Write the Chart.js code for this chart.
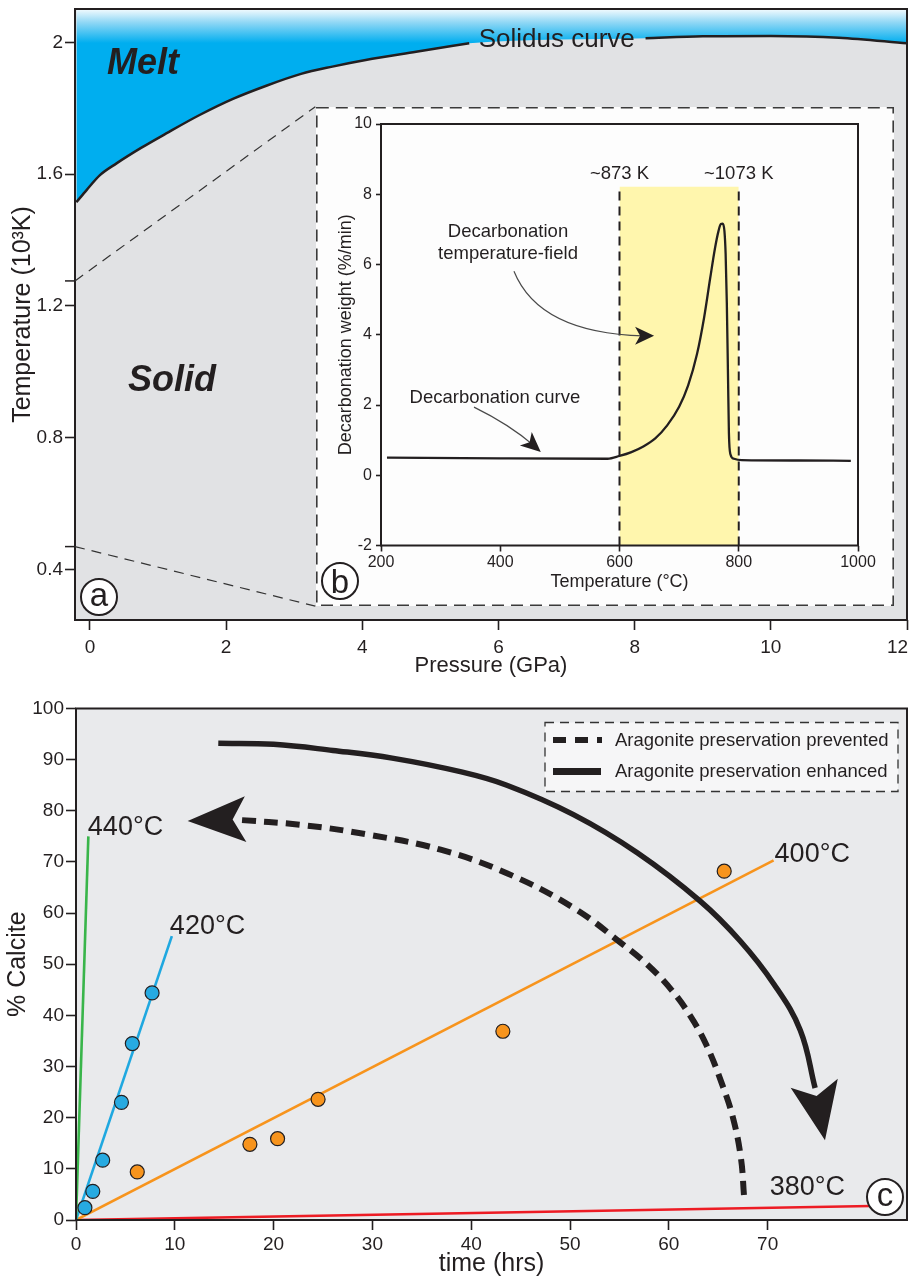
<!DOCTYPE html>
<html>
<head>
    <title>Solidus, decarbonation and calcite growth</title>
    <script src="https://cdn.jsdelivr.net/npm/chart.js"></script>
    <style>
        body {
            margin: 0;
            background: #fff;
        }
        #figure {
            position: relative;
            width: 909px;
            height: 1279px;
        }
        canvas {
            position: absolute;
        }
    </style>
</head>
<body>
    <div id="figure">
        <canvas id="phase" width="909" height="680" style="left:0;top:0"></canvas>
        <canvas id="decarb" width="578" height="499" style="left:316px;top:107px"></canvas>
        <canvas id="calcite" width="909" height="599" style="left:0;top:680px"></canvas>
    </div>

    <script>
        // ---- panel (a): solidus curve ----
        const solidusPressure = [-0.2, -0.05, 0.15, 0.39, 0.75, 1.12, 1.61, 2.1, 2.59, 3.1, 3.56, 4.05, 4.79, 5.57, 8.16, 9.0, 10.0, 11.0, 12.0];
        const solidusTemp = [1.515, 1.552, 1.598, 1.633, 1.68, 1.724, 1.78, 1.829, 1.869, 1.905, 1.927, 1.947, 1.972, 1.998, 2.013, 2.019, 2.02, 2.015, 1.998];
        const solidusGap = [5.57, 8.16]; // line is broken here for its label
        const pressureTicks = [0, 2, 4, 6, 8, 10, 12];
        const temperatureTicks = [0.4, 0.8, 1.2, 1.6, 2];

        // ---- panel (b): decarbonation curve ----
        const decarbTemp = [210, 400, 580, 600, 620, 640, 660, 680, 700, 715, 730, 742, 752, 760, 766, 770, 773, 776, 778, 780, 782, 783.5, 786, 792, 805, 900, 988];
        const decarbRate = [0.5, 0.48, 0.47, 0.55, 0.66, 0.82, 1.05, 1.42, 1.95, 2.55, 3.45, 4.5, 5.6, 6.45, 6.95, 7.15, 7.16, 6.95, 6.3, 4.9, 2.8, 1.2, 0.6, 0.47, 0.43, 0.42, 0.41];
        const fieldBounds = [600, 800];
        const fieldTop = 8.21;
        const fieldLabels = ['~873 K', '~1073 K'];

        // ---- panel (c): % calcite vs time ----
        const hrs420 = [0.9, 1.7, 2.7, 4.6, 5.7, 7.7];
        const calcite420 = [2.4, 5.6, 11.7, 23, 34.5, 44.4];
        const hrs400 = [6.2, 17.6, 20.4, 24.5, 43.2, 65.6];
        const calcite400 = [9.4, 14.8, 15.9, 23.6, 36.9, 68.2];
        const fitLabels = ['440°C', '420°C', '400°C', '380°C'];
        const fitEndHrs = [1.25, 9.7, 70.6, 81.9];
        const fitEndCalcite = [75, 55.5, 70.3, 2.8];
        const preventedHrs = [67.6, 67.3, 66.5, 65.3, 63.8, 62.2, 60.3, 58, 55.4, 50.3, 43.6, 36.9, 29.7, 23, 16];
        const preventedCalcite = [4.9, 12, 19.9, 27, 34.2, 39.8, 44.9, 49.6, 53.8, 61.1, 67.8, 72.4, 75.3, 77.2, 78.3];
        const preventedTip = [11.3, 78];
        const enhancedHrs = [14.4, 20, 26, 32, 39, 43.6, 50.3, 56.8, 63.2, 67.2, 70.6, 73.3, 74.8];
        const enhancedCalcite = [93.2, 93, 91.8, 90.3, 87.6, 85.0, 79.3, 71.8, 62.3, 54.6, 46.2, 37.1, 25.8];
        const enhancedTip = [75.8, 15.6];
        const legendLabels = ['Aragonite preservation prevented', 'Aragonite preservation enhanced'];
        const hourTicks = [0, 10, 20, 30, 40, 50, 60, 70];

        const INK = '#231f20';
        const FONT = 'Arial, "Liberation Sans", Helvetica, sans-serif';
        Chart.defaults.font.family = FONT;
        Chart.defaults.color = INK;

        const pts = (xs, ys) => xs.map((x, i) => ({ x: x, y: ys[i] }));

        function arrowHead(ctx, fromX, fromY, tipX, tipY, len, half, notch) {
            const dx = tipX - fromX, dy = tipY - fromY, d = Math.hypot(dx, dy);
            const ux = dx / d, uy = dy / d, nx = -uy, ny = ux;
            const bx = tipX - ux * len, by = tipY - uy * len;
            ctx.beginPath();
            ctx.moveTo(tipX, tipY);
            ctx.lineTo(bx + nx * half, by + ny * half);
            ctx.lineTo(bx + ux * notch, by + uy * notch);
            ctx.lineTo(bx - nx * half, by - ny * half);
            ctx.closePath();
            ctx.fill();
        }

        function circledLetter(ctx, cx, cy, letter, tall) {
            ctx.save();
            ctx.beginPath();
            ctx.arc(cx, cy, 18, 0, Math.PI * 2);
            ctx.fillStyle = '#fff';
            ctx.fill();
            ctx.lineWidth = 2;
            ctx.strokeStyle = INK;
            ctx.stroke();
            ctx.fillStyle = INK;
            ctx.font = '33px ' + FONT;
            ctx.textAlign = 'center';
            ctx.textBaseline = 'alphabetic';
            ctx.fillText(letter, cx, cy + (tall ? 12 : 8.5));
            ctx.restore();
        }

        // no extra room for edge labels: the plot boxes are fixed
        function noEdgePadding(s) {
            s.paddingLeft = 0;
            s.paddingRight = 0;
            s.paddingTop = 0;
            s.paddingBottom = 0;
        }

        function axisStyle(size, tickLen, pad) {
            return {
                grid: { drawOnChartArea: false, drawTicks: true, tickLength: tickLen, tickColor: INK, tickWidth: 1.6, color: INK },
                border: { display: false },
                ticks: { font: { size: size }, padding: pad, color: INK, maxRotation: 0, autoSkip: false }
            };
        }

        // ================= panel (a) =================
        function meltFill(c) {
            const a = c.chart.chartArea;
            if (!a) return '#00aeef';
            const g = c.chart.ctx.createLinearGradient(0, a.top, 0, a.top + 34);
            g.addColorStop(0, '#f4fbfe');
            g.addColorStop(0.4, '#8fd7f5');
            g.addColorStop(1, '#00aeef');
            return g;
        }

        const phaseNotes = {
            id: 'phaseNotes',
            beforeDraw(chart) {
                const { ctx, chartArea: a } = chart;
                ctx.save();
                ctx.fillStyle = '#e1e2e4';
                ctx.fillRect(a.left, a.top, a.width, a.height);
                ctx.restore();
            },
            afterDraw(chart) {
                const { ctx, chartArea: a, scales: { x, y } } = chart;
                ctx.save();
                ctx.strokeStyle = INK;
                ctx.lineWidth = 2;
                ctx.strokeRect(a.left, a.top, a.width, a.height);

                // dashed lines leading to the inset
                const links = [[-0.22, 1.276, 3.31, 1.805], [-0.22, 0.469, 3.31, 0.288]];
                links.forEach(l => {
                    ctx.setLineDash([]);
                    ctx.lineWidth = 1.5;
                    ctx.strokeStyle = INK;
                    ctx.beginPath();
                    ctx.moveTo(a.left - 10, y.getPixelForValue(l[1]));
                    ctx.lineTo(a.left, y.getPixelForValue(l[1]));
                    ctx.stroke();
                    ctx.setLineDash([10, 7]);
                    ctx.lineWidth = 1.2;
                    ctx.strokeStyle = '#333';
                    ctx.beginPath();
                    ctx.moveTo(x.getPixelForValue(l[0]), y.getPixelForValue(l[1]));
                    ctx.lineTo(x.getPixelForValue(l[2]), y.getPixelForValue(l[3]));
                    ctx.stroke();
                });
                ctx.setLineDash([]);

                ctx.fillStyle = INK;
                ctx.textBaseline = 'alphabetic';
                ctx.textAlign = 'left';
                ctx.font = 'italic bold 36px ' + FONT;
                ctx.fillText('Melt', x.getPixelForValue(0.25), y.getPixelForValue(1.905));
                ctx.fillText('Solid', x.getPixelForValue(0.56), y.getPixelForValue(0.942));
                ctx.font = '26px ' + FONT;
                ctx.fillText('Solidus curve', x.getPixelForValue(5.71), y.getPixelForValue(1.988));
                ctx.restore();

                circledLetter(ctx, a.left + 24, a.bottom - 23, 'a', false);
            }
        };

        const solidusAll = pts(solidusPressure, solidusTemp);
        const solidusLine = {
            showLine: true,
            borderColor: INK,
            borderWidth: 2.5,
            pointRadius: 0,
            cubicInterpolationMode: 'monotone',
            fill: false,
            order: 0
        };

        new Chart(document.getElementById('phase'), {
            type: 'scatter',
            data: {
                datasets: [{
                    label: 'Melt',
                    data: solidusAll,
                    showLine: true,
                    borderWidth: 0,
                    borderColor: 'rgba(0,0,0,0)',
                    pointRadius: 0,
                    cubicInterpolationMode: 'monotone',
                    fill: 'end',
                    backgroundColor: meltFill,
                    order: 1
                },
                Object.assign({ label: 'Solidus curve' }, solidusLine, { data: solidusAll.filter(p => p.x <= solidusGap[0]) }),
                Object.assign({ label: 'Solidus curve (high P)' }, solidusLine, { data: solidusAll.filter(p => p.x >= solidusGap[1]) })
                ]
            },
            options: {
                responsive: false,
                animation: false,
                layout: { autoPadding: false, padding: { top: 9, right: 2, left: 0, bottom: 0 } },
                plugins: { legend: { display: false }, tooltip: { enabled: false } },
                scales: {
                    x: Object.assign(axisStyle(19, 10, 6), {
                        type: 'linear', min: -0.22, max: 12,
                        afterBuildTicks: s => { s.ticks = pressureTicks.map(v => ({ value: v })); },
                        afterFit: s => { s.height = 60; noEdgePadding(s); },
                        title: { display: true, text: 'Pressure (GPa)', font: { size: 22 }, padding: { top: 0, bottom: 1 } }
                    }),
                    y: Object.assign(axisStyle(19, 10, 2), {
                        type: 'linear', min: 0.246, max: 2.102,
                        afterBuildTicks: s => { s.ticks = temperatureTicks.map(v => ({ value: v })); },
                        afterFit: s => { s.width = 75; noEdgePadding(s); },
                        title: { display: true, text: 'Temperature (10³K)', font: { size: 25 }, padding: { top: 8, bottom: 0 } }
                    })
                }
            },
            plugins: [phaseNotes]
        });
        // the last label sits on the right edge of the page, so nudge it inward
        Chart.getChart('phase').options.scales.x.ticks.callback = v => (v === 12 ? '12\u2002\u2002' : String(v));
        Chart.getChart('phase').options.scales.y.ticks.callback = v => (v === 2 ? '2' : v.toFixed(1));
        Chart.getChart('phase').update();

        // ================= panel (b) =================
        const decarbNotes = {
            id: 'decarbNotes',
            beforeDraw(chart) {
                const { ctx, width, height } = chart;
                ctx.save();
                ctx.fillStyle = '#fdfdfd';
                ctx.fillRect(0, 0, width, height);
                ctx.restore();
            },
            afterDraw(chart) {
                const { ctx, chartArea: a, scales: { x, y }, width, height } = chart;
                ctx.save();
                ctx.strokeStyle = INK;
                ctx.lineWidth = 2;
                ctx.strokeRect(a.left, a.top, a.width, a.height);

                ctx.setLineDash([12, 7]);
                ctx.lineWidth = 1.6;
                ctx.strokeStyle = '#3a3a3a';
                ctx.strokeRect(0.8, 0.8, width - 1.6, height - 1.6);
                ctx.setLineDash([]);

                ctx.fillStyle = INK;
                ctx.font = '18.5px ' + FONT;
                ctx.textAlign = 'center';
                ctx.textBaseline = 'alphabetic';
                fieldBounds.forEach((t, i) => ctx.fillText(fieldLabels[i], x.getPixelForValue(t), y.getPixelForValue(8.43)));
                ctx.fillText('Decarbonation', x.getPixelForValue(413), y.getPixelForValue(6.79));
                ctx.fillText('temperature-field', x.getPixelForValue(413), y.getPixelForValue(6.15));
                ctx.fillText('Decarbonation curve', x.getPixelForValue(391), y.getPixelForValue(2.06));

                // pointer arrows
                ctx.strokeStyle = '#4a4a4a';
                ctx.lineWidth = 1.2;
                const px = v => x.getPixelForValue(v), py = v => y.getPixelForValue(v);
                ctx.beginPath();
                ctx.moveTo(px(423), py(5.81));
                ctx.quadraticCurveTo(px(465), py(4.05), px(640), py(3.97));
                ctx.stroke();
                arrowHead(ctx, px(625), py(3.97), px(658), py(3.97), 19, 9, 5);
                ctx.beginPath();
                ctx.moveTo(px(356), py(1.94));
                ctx.quadraticCurveTo(px(415), py(1.45), px(456), py(0.85));
                ctx.stroke();
                arrowHead(ctx, px(440), py(1.08), px(468), py(0.66), 20, 9, 5);
                ctx.restore();

                circledLetter(ctx, 24, 474, 'b', true);
            }
        };

        new Chart(document.getElementById('decarb'), {
            type: 'scatter',
            data: {
                datasets: [{
                    label: 'Decarbonation curve',
                    data: pts(decarbTemp, decarbRate),
                    showLine: true,
                    borderColor: INK,
                    borderWidth: 2.3,
                    pointRadius: 0,
                    cubicInterpolationMode: 'monotone',
                    order: 0
                }, {
                    label: 'Decarbonation temperature-field',
                    data: fieldBounds.map(t => ({ x: t, y: fieldTop })),
                    showLine: true,
                    borderWidth: 0,
                    pointRadius: 0,
                    fill: 'start',
                    backgroundColor: '#fff6ad',
                    order: 3
                }].concat(fieldBounds.map(t => ({
                    label: 'bound ' + t,
                    data: [{ x: t, y: -2 }, { x: t, y: fieldTop }],
                    showLine: true,
                    borderColor: INK,
                    borderWidth: 2,
                    borderDash: [9, 6],
                    pointRadius: 0,
                    order: 1
                })))
            },
            options: {
                responsive: false,
                animation: false,
                layout: { autoPadding: false, padding: { top: 17, right: 36, left: 0, bottom: 0 } },
                plugins: { legend: { display: false }, tooltip: { enabled: false } },
                scales: {
                    x: Object.assign(axisStyle(16, 6, 1), {
                        type: 'linear', min: 200, max: 1000,
                        afterFit: s => { s.height = 60.5; noEdgePadding(s); },
                        title: { display: true, text: 'Temperature (°C)', font: { size: 18 }, padding: { top: 0, bottom: 13 } }
                    }),
                    y: Object.assign(axisStyle(16, 5, 4), {
                        type: 'linear', min: -2, max: 10,
                        afterFit: s => { s.width = 65; noEdgePadding(s); },
                        title: { display: true, text: 'Decarbonation weight (%/min)', font: { size: 18 }, padding: { top: 19, bottom: 0 } }
                    })
                }
            },
            plugins: [decarbNotes]
        });
        Chart.getChart('decarb').options.scales.x.ticks.stepSize = 200;
        Chart.getChart('decarb').options.scales.x.ticks.callback = v => String(v);
        Chart.getChart('decarb').options.scales.y.ticks.stepSize = 2;
        Chart.getChart('decarb').options.scales.y.ticks.callback = v => String(v);
        Chart.getChart('decarb').update();

        // ================= panel (c) =================
        const fitColors = ['#39b54a', '#1fa8e0', '#f7941d', '#ed1c24'];

        const calciteNotes = {
            id: 'calciteNotes',
            beforeDraw(chart) {
                const { ctx, chartArea: a } = chart;
                ctx.save();
                ctx.fillStyle = '#e9eaec';
                ctx.fillRect(a.left, a.top, a.width, a.height);
                ctx.restore();
            },
            afterDatasetsDraw(chart) {
                const { ctx, scales: { x, y } } = chart;
                ctx.save();
                ctx.fillStyle = INK;
                const n1 = preventedHrs.length - 1, n2 = enhancedHrs.length - 1;
                arrowHead(ctx, x.getPixelForValue(preventedHrs[n1]), y.getPixelForValue(preventedCalcite[n1]),
                    x.getPixelForValue(preventedTip[0]), y.getPixelForValue(preventedTip[1]), 58, 23, 13);
                arrowHead(ctx, x.getPixelForValue(enhancedHrs[n2]), y.getPixelForValue(enhancedCalcite[n2]),
                    x.getPixelForValue(enhancedTip[0]), y.getPixelForValue(enhancedTip[1]), 58, 24, 13);
                ctx.restore();
            },
            afterDraw(chart) {
                const { ctx, chartArea: a, scales: { x, y } } = chart;
                ctx.save();
                ctx.strokeStyle = INK;
                ctx.lineWidth = 2;
                ctx.strokeRect(a.left, a.top, a.width, a.height);

                // temperature labels
                const spots = [[1.2, 77], [9.5, 57.5], [70.7, 71.6], [70.2, 6.5]];
                ctx.fillStyle = INK;
                ctx.font = '27px ' + FONT;
                ctx.textAlign = 'left';
                ctx.textBaseline = 'middle';
                fitLabels.forEach((t, i) => ctx.fillText(t, x.getPixelForValue(spots[i][0]), y.getPixelForValue(spots[i][1]) + 1));

                // legend
                const lw = 353, lh = 69;
                const lx = a.right - 362, ly = a.top + 14;
                ctx.fillStyle = '#f6f6f7';
                ctx.fillRect(lx, ly, lw, lh);
                ctx.setLineDash([9, 6]);
                ctx.lineWidth = 1.3;
                ctx.strokeStyle = '#333';
                ctx.strokeRect(lx, ly, lw, lh);
                ctx.strokeStyle = INK;
                ctx.setLineDash([13, 9]);
                ctx.lineWidth = 6;
                ctx.beginPath();
                ctx.moveTo(lx + 8, ly + 17.5);
                ctx.lineTo(lx + 57, ly + 17.5);
                ctx.stroke();
                ctx.setLineDash([]);
                ctx.lineWidth = 7;
                ctx.beginPath();
                ctx.moveTo(lx + 8, ly + 49);
                ctx.lineTo(lx + 56, ly + 49);
                ctx.stroke();
                ctx.fillStyle = INK;
                ctx.font = '18.5px ' + FONT;
                ctx.fillText(legendLabels[0], lx + 70, ly + 18);
                ctx.fillText(legendLabels[1], lx + 70, ly + 49.5);
                ctx.restore();

                circledLetter(ctx, a.right - 22, a.bottom - 23, 'c', false);
            }
        };

        const fitSets = fitLabels.map((t, i) => ({
            label: t,
            data: [{ x: 0, y: 0 }, { x: fitEndHrs[i], y: fitEndCalcite[i] }],
            showLine: true,
            borderColor: fitColors[i],
            borderWidth: 2.6,
            pointRadius: 0,
            order: 3
        }));

        new Chart(document.getElementById('calcite'), {
            type: 'scatter',
            data: {
                datasets: [{
                    label: legendLabels[0],
                    data: pts(preventedHrs, preventedCalcite),
                    showLine: true,
                    borderColor: INK,
                    borderWidth: 6,
                    borderDash: [14, 8],
                    borderCapStyle: 'butt',
                    tension: 0.4,
                    pointRadius: 0,
                    order: 0
                }, {
                    label: legendLabels[1],
                    data: pts(enhancedHrs, enhancedCalcite),
                    showLine: true,
                    borderColor: INK,
                    borderWidth: 5.5,
                    tension: 0.4,
                    pointRadius: 0,
                    order: 0
                }, {
                    label: '420°C data',
                    data: pts(hrs420, calcite420),
                    pointRadius: 7,
                    pointBackgroundColor: '#27aae1',
                    pointBorderColor: INK,
                    pointBorderWidth: 1.2,
                    order: 1
                }, {
                    label: '400°C data',
                    data: pts(hrs400, calcite400),
                    pointRadius: 7,
                    pointBackgroundColor: '#f7941d',
                    pointBorderColor: INK,
                    pointBorderWidth: 1.2,
                    order: 1
                }].concat(fitSets)
            },
            options: {
                responsive: false,
                animation: false,
                layout: { autoPadding: false, padding: { top: 28.5, right: 2, left: 0, bottom: 0 } },
                plugins: { legend: { display: false }, tooltip: { enabled: false } },
                scales: {
                    x: Object.assign(axisStyle(19, 10, 3), {
                        type: 'linear', min: 0, max: 84.1,
                        afterBuildTicks: s => { s.ticks = hourTicks.map(v => ({ value: v })); },
                        afterFit: s => { s.height = 59; noEdgePadding(s); },
                        title: { display: true, text: 'time (hrs)', font: { size: 25 }, padding: { top: 0, bottom: 0 } }
                    }),
                    y: Object.assign(axisStyle(19, 10, 2), {
                        type: 'linear', min: 0, max: 100,
                        afterFit: s => { s.width = 76; noEdgePadding(s); },
                        title: { display: true, text: '% Calcite', font: { size: 25 }, padding: { top: 3, bottom: 0 } }
                    })
                }
            },
            plugins: [calciteNotes]
        });
        Chart.getChart('calcite').options.scales.x.ticks.callback = v => String(v);
        Chart.getChart('calcite').options.scales.y.ticks.stepSize = 10;
        Chart.getChart('calcite').update();
    </script>
</body>
</html>
